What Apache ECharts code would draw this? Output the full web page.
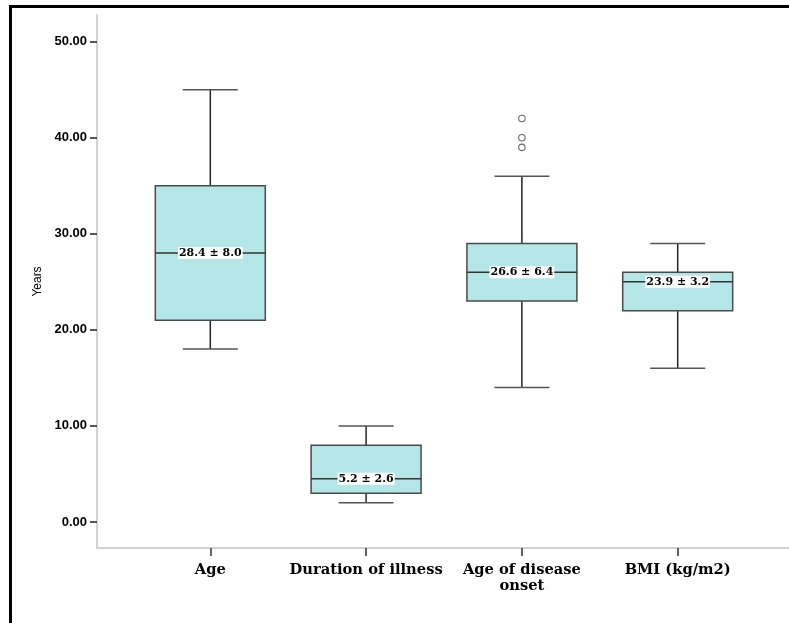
<!DOCTYPE html>
<html>
<head>
<meta charset="utf-8">
<script src="https://cdn.jsdelivr.net/npm/echarts@6/dist/echarts.min.js"></script>
<style>
html,body{margin:0;padding:0;background:#fff;}
#chart{width:789px;height:623px;}
</style>
</head>
<body>
<div id="chart"></div>
<script>
const categories = ['Age', 'Duration of illness', 'Age of disease\nonset', 'BMI (kg/m2)'];
const mins    = [18, 2, 14, 16];
const q1s     = [21, 3, 23, 22];
const medians = [28, 4.5, 26, 25];
const q3s     = [35, 8, 29, 26];
const maxs    = [45, 10, 36, 29];
const meanSdLabels = ['28.4 ± 8.0', '5.2 ± 2.6', '26.6 ± 6.4', '23.9 ± 3.2'];
const outliers = [[2, 42], [2, 40], [2, 39]];
const yTicks = [0, 10, 20, 30, 40, 50];
const yRange = [-2.71, 52.78];

const chart = echarts.init(document.getElementById('chart'), null, {renderer: 'canvas'});

const boxData = categories.map((c, i) => [i, mins[i], q1s[i], medians[i], q3s[i], maxs[i]]);

function renderBox(params, api) {
  const i = api.value(0);
  const band = api.size([1, 0])[0];
  const bw = band * 0.706;
  const cw = bw / 2;
  const pMin = api.coord([i, api.value(1)]);
  const pQ1 = api.coord([i, api.value(2)]);
  const pMed = api.coord([i, api.value(3)]);
  const pQ3 = api.coord([i, api.value(4)]);
  const pMax = api.coord([i, api.value(5)]);
  const cx = pMin[0];
  const whisk = {stroke: '#222', lineWidth: 1.5};
  const cap = {stroke: '#555', lineWidth: 1.5};
  return {
    type: 'group',
    children: [
      {type: 'line', shape: {x1: cx, y1: pQ3[1], x2: cx, y2: pMax[1]}, style: whisk},
      {type: 'line', shape: {x1: cx, y1: pQ1[1], x2: cx, y2: pMin[1]}, style: whisk},
      {type: 'line', shape: {x1: cx - cw / 2, y1: pMax[1], x2: cx + cw / 2, y2: pMax[1]}, style: cap},
      {type: 'line', shape: {x1: cx - cw / 2, y1: pMin[1], x2: cx + cw / 2, y2: pMin[1]}, style: cap},
      {type: 'rect', shape: {x: cx - bw / 2, y: pQ3[1], width: bw, height: pQ1[1] - pQ3[1]},
        style: {fill: '#b4e6e7', stroke: '#4a4a4a', lineWidth: 1.5}},
      {type: 'line', shape: {x1: cx - bw / 2, y1: pMed[1], x2: cx + bw / 2, y2: pMed[1]},
        style: {stroke: '#333', lineWidth: 1.5}},
      {type: 'text', x: cx, y: pMed[1],
        style: {text: meanSdLabels[i], font: 'bold 11px "DejaVu Serif", serif',
          fill: '#000', align: 'center', verticalAlign: 'middle', backgroundColor: '#fff', padding: [1, 1, 0, 1]}}
    ]
  };
}

const option = {
  backgroundColor: '#fff',
  animation: false,
  graphic: [{
    type: 'rect', silent: true, z: 100,
    shape: {x: 10.5, y: 6.5, width: 1000, height: 1000},
    style: {fill: 'none', stroke: '#000', lineWidth: 3}
  }],
  grid: [
    {left: 97, right: 0, top: 15, bottom: 75},
    {left: 132.4, right: 33.4, top: 15, bottom: 75}
  ],
  xAxis: [
    {gridIndex: 0, type: 'value', min: 0, max: 1,
      axisLine: {show: true, onZero: false, lineStyle: {color: '#d2d2d2', width: 2}},
      axisTick: {show: false}, axisLabel: {show: false}, splitLine: {show: false}},
    {gridIndex: 1, type: 'category', data: categories,
      axisLine: {show: false, onZero: false},
      axisTick: {show: true, alignWithLabel: true, length: 8, lineStyle: {color: '#333', width: 1.5}},
      axisLabel: {interval: 0, margin: 14, color: '#000', fontWeight: 'bold', fontSize: 14.7,
        fontFamily: '"DejaVu Serif", serif', lineHeight: 16},
      splitLine: {show: false}}
  ],
  yAxis: [
    {gridIndex: 0, type: 'value', min: 0, max: 1,
      axisLine: {show: true, onZero: false, lineStyle: {color: '#d2d2d2', width: 2}},
      axisTick: {show: false}, axisLabel: {show: false}, splitLine: {show: false}},
    {gridIndex: 1, type: 'value', min: yRange[0], max: yRange[1], offset: 35.4,
      name: 'Years', nameLocation: 'middle', nameGap: 47,
      nameTextStyle: {color: '#000', fontSize: 12, fontFamily: '"Liberation Sans", Arial, sans-serif'},
      axisLine: {show: false, onZero: false},
      axisTick: {show: true, length: 7, customValues: yTicks, lineStyle: {color: '#222', width: 1.5}},
      axisLabel: {margin: 10, color: '#000', fontWeight: 'bold', fontSize: 13, customValues: yTicks,
        fontFamily: '"Liberation Sans", Arial, sans-serif',
        formatter: v => v.toFixed(2)},
      splitLine: {show: false}}
  ],
  series: [
    {type: 'custom', xAxisIndex: 1, yAxisIndex: 1, data: boxData,
      encode: {x: 0, y: [1, 2, 3, 4, 5]}, renderItem: renderBox, z: 2},
    {type: 'scatter', xAxisIndex: 1, yAxisIndex: 1, data: outliers,
      symbol: 'circle', symbolSize: 6.5,
      itemStyle: {color: '#fff', borderColor: '#444', borderWidth: 1.1}, z: 3}
  ]
};
chart.setOption(option);
</script>
</body>
</html>
